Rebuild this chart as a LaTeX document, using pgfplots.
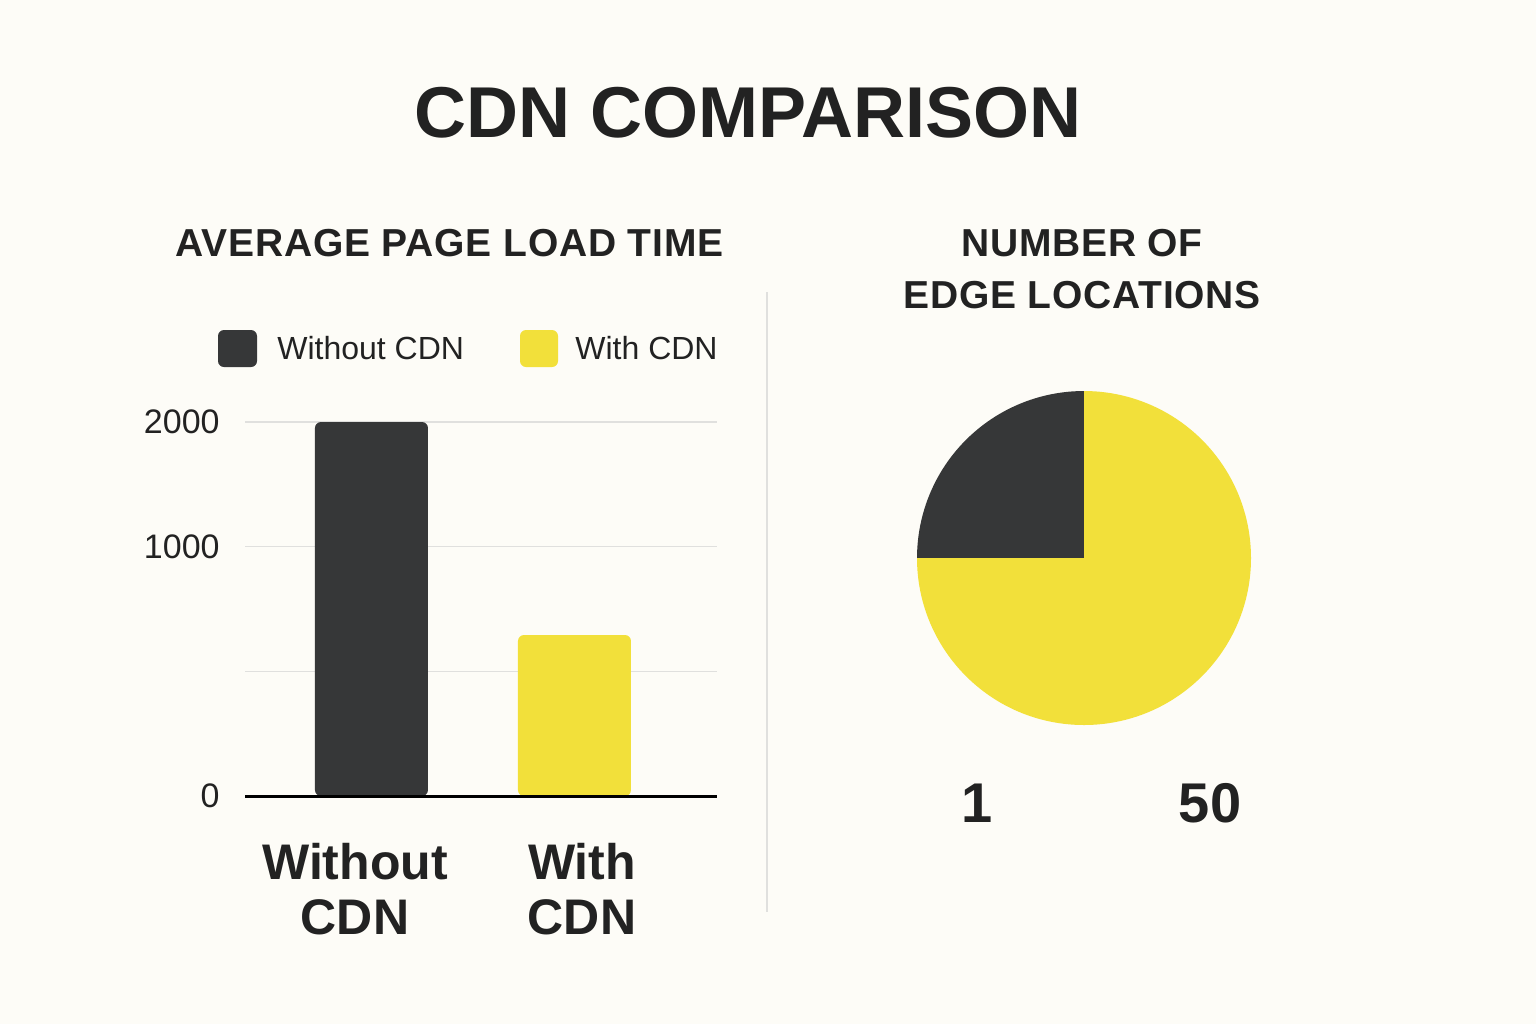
\documentclass[border=0pt]{standalone}
\usepackage{fontspec}
\setmainfont{Liberation Sans}
\usepackage{pgfplots}
\pgfplotsset{compat=1.18}
\definecolor{bgc}{HTML}{FDFCF7}
\definecolor{darkbar}{HTML}{363738}
\definecolor{yel}{HTML}{F2E03A}
\definecolor{txt}{HTML}{222222}
\definecolor{gridc}{HTML}{E0E0DE}
% pie shares (percent of circle)
\def\shareDark{25}
\def\shareYel{75}
\pgfmathsetmacro\angA{90}
\pgfmathsetmacro\angB{90+3.6*\shareDark}
\pgfmathsetmacro\angC{\angB+3.6*\shareYel}
\begin{document}
\begin{tikzpicture}
\fill[bgc] (0,0) rectangle (768pt,-512pt);
\node[txt, font=\fontsize{36}{40}\selectfont\bfseries] at (374pt,-56.5pt) {CDN COMPARISON};
\node[txt, font=\fontsize{19.5}{22}\selectfont\bfseries\addfontfeatures{LetterSpace=2}] at (224.75pt,-121.5pt) {AVERAGE PAGE LOAD TIME};
\node[txt, font=\fontsize{19.5}{26}\selectfont\bfseries\addfontfeatures{LetterSpace=2}, align=center] at (541pt,-134.5pt) {NUMBER OF\\EDGE LOCATIONS};
% legend
\fill[darkbar, rounded corners=3pt] (109pt,-165pt) rectangle (128.5pt,-183.5pt);
\node[txt, anchor=west, inner sep=0pt, font=\fontsize{16}{18}\selectfont] at (138.5pt,-174pt) {Without CDN};
\fill[yel, rounded corners=3pt] (260pt,-165pt) rectangle (279pt,-183.5pt);
\node[txt, anchor=west, inner sep=0pt, font=\fontsize{16}{18}\selectfont] at (287.5pt,-174pt) {With CDN};
% separator
\draw[gridc, line width=1pt] (383.5pt,-146pt) -- (383.5pt,-456pt);
\begin{axis}[
  at={(122.5pt,-398pt)}, anchor=south west,
  width=236pt, height=187pt, scale only axis,
  xmin=-0.623, xmax=1.702, ymin=0, ymax=2000, clip=false,
  axis line style={draw=none}, tick style={draw=none},
  ytick={0,666.67,1333.33,2000}, yticklabels={{0},{},{1000},{2000}},
  ymajorgrids, grid style={gridc, line width=0.8pt},
  xtick={-0.081,1.037}, xticklabels={Without\\CDN,With\\CDN},
  xticklabel style={align=center, font=\fontsize{25}{27.5}\selectfont\bfseries, text=txt, inner sep=0pt, yshift=-19pt, anchor=north},
  yticklabel style={font=\fontsize{17}{20}\selectfont, text=txt, anchor=east, inner sep=0pt, xshift=-12.5pt},
  /pgf/number format/assume math mode=true,
  ybar, bar width=56.5pt,
]
\addplot[fill=darkbar, draw=none, bar shift=0pt, rounded corners=3pt] coordinates {(0,2000)};
\addplot[fill=yel, draw=none, bar shift=0pt, rounded corners=3pt] coordinates {(1,861)};
\draw[black, line width=1.5pt] (axis cs:-0.623,0) -- (axis cs:1.702,0);
\end{axis}
\begin{axis}[
  at={(542pt,-279pt)}, anchor=center,
  width=167pt, height=167pt, scale only axis,
  xmin=-1, xmax=1, ymin=-1, ymax=1, hide axis, clip=false,
]
\fill[darkbar] (axis cs:0,0) -- (axis cs:{cos(\angA)},{sin(\angA)}) arc[start angle=\angA, end angle=\angB, radius=83.5pt] -- cycle;
\fill[yel] (axis cs:0,0) -- (axis cs:{cos(\angB)},{sin(\angB)}) arc[start angle=\angB, end angle=\angC, radius=83.5pt] -- cycle;
\end{axis}
\node[txt, font=\fontsize{28}{30}\selectfont\bfseries] at (488.5pt,-401.5pt) {1};
\node[txt, font=\fontsize{28}{30}\selectfont\bfseries] at (605pt,-401.5pt) {50};
\end{tikzpicture}
\end{document}
